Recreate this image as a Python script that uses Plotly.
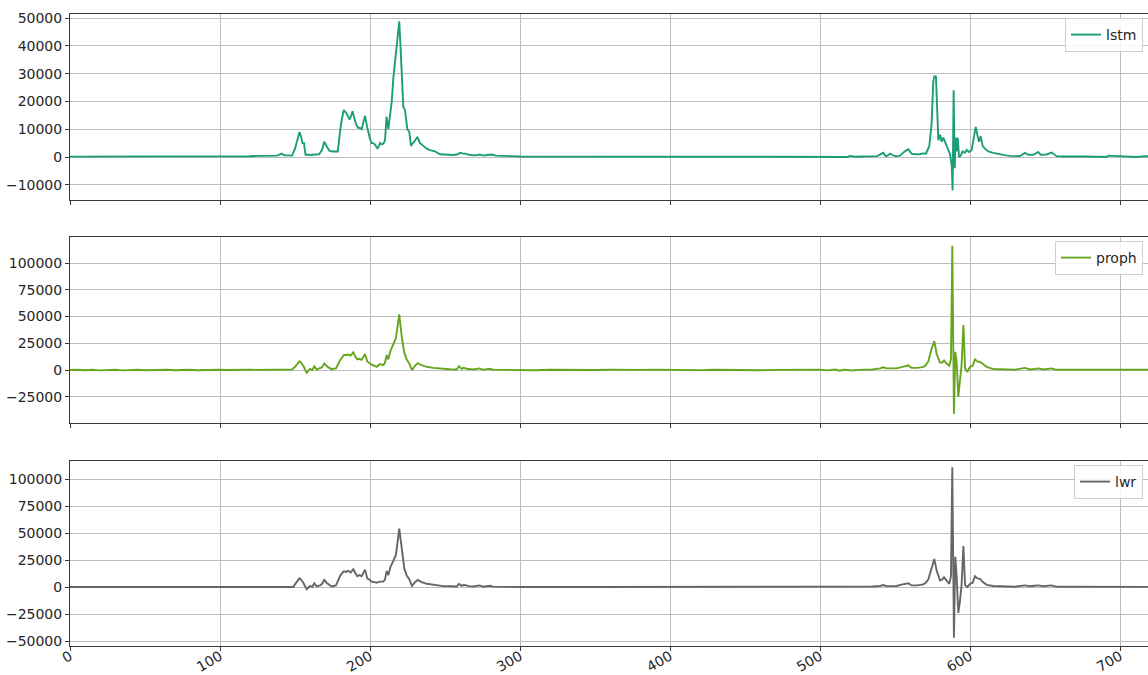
import plotly.graph_objects as go

# ---------------- data ----------------
lstm_x = [0, 10, 20, 30, 40, 50, 60, 65, 70, 75,
          80, 90, 100, 110, 120, 125, 130, 135, 138, 141,
          143, 146, 148, 150, 152, 153, 154, 155, 156, 157,
          159, 161, 163, 165, 166, 168, 169.5, 171, 173, 175,
          177, 178.5, 180, 181, 182.5, 184, 185.5, 186.5, 187.5, 188.4,
          189.5, 190.6, 192, 193, 194.4, 195.5, 196.7, 198, 199, 200,
          201, 202, 203.3, 204, 205, 206, 206.7, 208, 209, 210,
          211, 212.2, 213.3, 214.5, 215.5, 216.5, 217.3, 218.5, 219.5, 220.5,
          221.3, 222.2, 223.3, 224.2, 224.9, 226.2, 227.3, 228.5, 229.5, 231.5,
          233.3, 235.5, 237.8, 240, 243.3, 246.7, 250, 255.5, 258, 260,
          262, 263.3, 266.7, 270, 273.3, 275.5, 278, 281, 284, 286.7,
          293, 300, 320, 340, 360, 380, 400, 420, 440, 460,
          480, 500, 510, 518, 520, 523, 530, 538, 542.2, 543.5,
          544.4, 546.7, 548, 550, 553, 555.5, 557, 558.9, 561, 563,
          566.7, 568.5, 570.7, 572.9, 574.4, 575.5, 576.2, 577.3, 578.9, 580,
          581.1, 582.2, 583, 584, 585.5, 586.7, 587.8, 588.4, 589.1, 589.8,
          590.4, 591.1, 591.8, 592.7, 593.8, 595.1, 596.7, 597.8, 599.3, 601.1,
          602.2, 603.8, 604.9, 606, 607.1, 608.4, 610, 612.2, 615.5, 618,
          621, 624, 626.7, 630, 633.3, 636.7, 638.9, 642.2, 645.5, 647.1,
          649, 651.1, 654.4, 657.8, 662, 666.7, 672, 677.8, 684, 691.1,
          692.2, 700, 705, 711, 716.7, 725]
lstm_y = [150, 150, 150, 120, 150, 150, 200, 350, 250, 350,
          300, 250, 200, 200, 250, 400, 350, 300, 500, 1200,
          600, 600, 500, 3000, 7000, 9000, 7500, 5000, 5000, 800,
          800, 700, 900, 900, 1000, 2500, 5500, 4000, 2200, 2000,
          1900, 2000, 9000, 13000, 16900, 16000, 14500, 13500, 15000, 16500,
          14000, 12000, 10500, 10500, 10000, 12000, 14800, 11000, 8000, 6500,
          5000, 5000, 4500, 4000, 3000, 4000, 5000, 4500, 4800, 6000,
          14500, 10000, 14000, 20000, 28000, 33000, 36000, 42000, 48800, 38000,
          27000, 18000, 17000, 12000, 10000, 9000, 4000, 5000, 5500, 7200,
          5000, 4000, 3000, 2500, 2000, 1000, 800, 700, 900, 1500,
          1200, 1200, 700, 600, 900, 500, 700, 900, 500, 400,
          300, 200, 150, 100, 100, 100, 100, 100, 100, 100,
          100, 0, -100, 0, 400, 100, 200, 300, 1500, 500,
          300, 1200, 800, 300, 400, 1700, 2200, 2800, 1200, 1000,
          1000, 1300, 1200, 4000, 12000, 27000, 29000, 29000, 6000, 8000,
          5500, 7000, 6000, 5000, 3000, 1000, -3000, -12000, 24000, -4000,
          7000, 2000, 7000, 0, 500, 2000, 1500, 2500, 1800, 2500,
          6000, 10800, 8000, 5500, 7500, 4000, 3000, 2000, 1500, 1200,
          800, 600, 400, 400, 300, 1500, 800, 800, 1800, 800,
          900, 900, 1600, 300, 200, 100, 200, 200, 100, 0,
          500, 300, 200, 0, 300, 200]

proph_x = [0, 5, 10, 15, 20, 25, 30, 35, 40, 45,
           50, 55, 60, 65, 70, 75, 80, 85, 90, 95,
           100, 105, 110, 115, 120, 125, 130, 135, 138, 141,
           145, 148, 150, 152.9, 154, 155.5, 157.8, 159, 160, 161.5,
           162.9, 164.4, 166.7, 168, 169.5, 171, 172.2, 174.4, 177.3, 180,
           181.5, 182.6, 184, 185.5, 187.1, 188.9, 190, 191.5, 193, 194.4,
           196.7, 198.2, 200, 201, 203, 204.4, 206.7, 208.9, 210, 211.1,
           212.2, 213.7, 215.5, 217.3, 219.5, 221.1, 222.9, 224.4, 226.2, 228,
           230, 231.8, 234.4, 237.8, 242.2, 245, 248.9, 253, 257.8, 259.3,
           261.1, 262.5, 264.4, 266, 268.9, 272.9, 275.5, 278, 280, 282,
           284.4, 288, 293.3, 300, 310, 320, 330, 340, 350, 360,
           370, 380, 390, 400, 410, 420, 430, 440, 450, 460,
           470, 480, 490, 500, 505, 510, 513, 516, 520, 522,
           525, 529, 535, 540, 542.2, 544.4, 548, 551, 555, 558.9,
           561, 565, 568.9, 570.5, 572.2, 574.4, 576.2, 577.8, 580, 581.5,
           582.7, 584.4, 586.2, 587.3, 588.2, 589.3, 590.2, 591.1, 592.2, 593.3,
           594.4, 595.6, 596.7, 598.2, 600, 601.8, 603.3, 604.9, 606.7, 608.2,
           611.1, 613, 615.5, 620, 624.4, 630, 636.7, 640, 643, 645.5,
           648.9, 651, 654.4, 657.8, 665, 677.8, 685, 692, 700, 710,
           717.8, 725]
proph_y = [0, 300, -200, 200, -300, 100, 200, -300, 0, 300,
           -200, 200, -100, 300, -200, 100, 300, -200, 200, -100,
           300, 0, 200, -100, 300, 100, 200, 500, 800, 300,
           500, 500, 3000, 8100, 7000, 4000, -2500, -500, 1000, 0,
           3500, 500, 1500, 2500, 6000, 4000, 2500, 800, 1500, 9000,
           12000, 14000, 14000, 14500, 13500, 16500, 13000, 10000, 10500, 9500,
           15000, 8000, 6000, 5000, 4000, 3000, 5500, 4500, 7000, 14000,
           10000, 18000, 24000, 30000, 52000, 32000, 16000, 10000, 6000, 0,
           4000, 6500, 4500, 3000, 2000, 1500, 800, 700, 500, 3500,
           1000, 2000, 1200, 800, 500, 1500, 300, 800, 1200, 400,
           300, 600, 200, 300, -200, 200, -100, 300, 0, 200,
           -200, 100, 300, 0, 200, -100, 300, 0, 200, -200,
           100, 300, 0, 200, -300, 500, -600, 300, -200, -400,
           100, 200, 500, 1500, 2500, 1500, 1200, 1500, 3000, 4500,
           2000, 2000, 3000, 4500, 8000, 20000, 27000, 15000, 7000, 7000,
           9000, 6000, 4000, 10000, 116000, -41000, 17000, 8000, -25000, -10000,
           5000, 42000, 2000, -2000, 3000, 4000, 10000, 8000, 7500, 6000,
           3000, 2000, 1000, 700, 500, 300, 2000, 500, 1000, 1500,
           500, 1000, 1500, 200, 300, 0, 200, 500, 300, 200,
           100, 200]

lwr_x = [0, 20, 40, 60, 80, 100, 120, 130, 140, 145,
         148.9, 150, 152.9, 154, 155.5, 157.8, 159, 160, 161.5, 162.9,
         164.4, 166.7, 168, 169.5, 171, 172.2, 174.4, 177.3, 180, 181.5,
         182.6, 184, 185.5, 187.1, 188.9, 190, 191.5, 193, 194.4, 196.7,
         198.2, 200, 201, 203, 204.4, 206.7, 208.9, 210, 211.1, 212.2,
         213.7, 215.5, 217.3, 219.5, 221.1, 222.9, 224.4, 226.2, 228, 230,
         231.8, 234.4, 237.8, 242.2, 245, 248.9, 253, 257.8, 259.3, 261.1,
         262.5, 264.4, 266, 268.9, 272.9, 275.5, 278, 280, 282, 284.4,
         290, 300, 350, 400, 450, 500, 505, 510, 515, 518,
         522, 525, 530, 535, 540, 542.2, 544.4, 548, 551, 555,
         558.9, 561, 565, 568.9, 570.5, 572.2, 574.4, 576.2, 577.8, 580,
         581.5, 582.7, 584.4, 586.2, 587.3, 588.2, 589.3, 590.2, 591.1, 592.2,
         593.3, 594.4, 595.6, 596.7, 598.2, 600, 601.8, 603.3, 604.9, 606.7,
         608.2, 611.1, 615.5, 620, 624.4, 630, 636.7, 640, 643, 645.5,
         648.9, 651, 654.4, 657.8, 665, 677.8, 692, 700, 725]
lwr_y = [0, 0, 50, 0, 50, 0, 100, 300, 500, 300,
         0, 2500, 8000, 7000, 4000, -2000, -500, 1000, 0, 3500,
         500, 1500, 3000, 6500, 4000, 2500, 500, 1500, 10000, 13000,
         14500, 14000, 15000, 13500, 16500, 13500, 10000, 11000, 10000, 16000,
         8000, 6500, 5000, 4500, 4000, 5000, 5000, 7000, 15000, 11000,
         19000, 24000, 30000, 54000, 34000, 17000, 11000, 7000, 1000, 4500,
         6500, 4500, 3000, 2000, 1500, 800, 700, 500, 3000, 1000,
         2000, 1000, 800, 500, 1500, 300, 800, 1200, 400, 300,
         200, 0, 0, 0, 0, 0, 300, 0, 600, 100,
         700, 200, 300, 500, 1000, 1800, 800, 800, 1000, 2500,
         3500, 1500, 1500, 2500, 4000, 7000, 18000, 26000, 15000, 6000,
         7000, 9000, 6000, 3000, 10000, 111000, -47000, 28000, 10000, -24000,
         -13000, 2000, 38000, 2000, 0, 3000, 4000, 10000, 8000, 7500,
         5000, 2000, 1000, 700, 500, 300, 1500, 800, 1200, 1500,
         800, 1000, 1500, 200, 200, 0, 300, 200, 100]

series_names = ["lstm", "proph", "lwr"]
series_colors = ["#1b9e77", "#66a61e", "#666666"]
x_ticks = [0, 100, 200, 300, 400, 500, 600, 700]
y_ticks_top = [-10000, 0, 10000, 20000, 30000, 40000, 50000]
y_ticks_mid = [-25000, 0, 25000, 50000, 75000, 100000]
y_ticks_bot = [-50000, -25000, 0, 25000, 50000, 75000, 100000]

assert len(lstm_x) == len(lstm_y)
assert len(proph_x) == len(proph_y)
assert len(lwr_x) == len(lwr_y)

# ---------------- figure ----------------
W, H = 1148, 675
FONT = "DejaVu Sans"
FS = 14
SPINE = "#3a3a3a"
GRID = "#bdbdbd"
TXT = "#262626"


def lab(v):
    s = str(abs(v))
    return ("\u2212" + s) if v < 0 else s


fig = go.Figure()
data = [(lstm_x, lstm_y), (proph_x, proph_y), (lwr_x, lwr_y)]
for i, ((xs, ys), nm, col) in enumerate(zip(data, series_names, series_colors)):
    sfx = "" if i == 0 else str(i + 1)
    fig.add_trace(go.Scatter(
        x=xs, y=ys, mode="lines", name=nm,
        line=dict(color=col, width=1.9),
        xaxis="x" + sfx, yaxis="y" + sfx,
        legend="legend" + sfx,
    ))

# panel pixel extents (top, bottom) in the 675px tall page
panels = [(14, 200), (237, 423), (461, 646)]
yranges = [[-15470, 51440], [-49500, 124300], [-54600, 116700]]
yticks = [y_ticks_top, y_ticks_mid, y_ticks_bot]
x_left = 70
x_max = (W - x_left) / 1.5

layout = dict(
    width=W, height=H,
    margin=dict(l=0, r=0, t=0, b=0),
    paper_bgcolor="white", plot_bgcolor="white",
    font=dict(family=FONT, size=FS, color=TXT),
    showlegend=True,
)
for i in range(3):
    sfx = "" if i == 0 else str(i + 1)
    top, bot = panels[i]
    layout["xaxis" + sfx] = dict(
        domain=[x_left / W, 1.0], range=[0, x_max],
        anchor="y" + sfx,
        tickvals=x_ticks, ticktext=[str(v) for v in x_ticks],
        showticklabels=(i == 2), tickangle=-30,
        ticklabelstandoff=-8,
        showgrid=True, gridcolor=GRID, gridwidth=1,
        showline=True, linecolor=SPINE, linewidth=1, mirror=True,
        ticks="outside", ticklen=4, tickcolor=SPINE,
        zeroline=False, automargin=False,
        tickfont=dict(family=FONT, size=FS, color=TXT),
    )
    if i > 0:
        layout["xaxis" + sfx]["matches"] = "x"
    layout["yaxis" + sfx] = dict(
        domain=[1 - bot / H, 1 - top / H], range=yranges[i],
        anchor="x" + sfx,
        tickvals=yticks[i], ticktext=[lab(v) for v in yticks[i]],
        showgrid=True, gridcolor=GRID, gridwidth=1,
        showline=True, linecolor=SPINE, linewidth=1, mirror=True,
        ticks="outside", ticklen=4, tickcolor=SPINE,
        zeroline=False, automargin=False,
        tickfont=dict(family=FONT, size=FS, color=TXT),
    )
    layout["legend" + sfx] = dict(
        x=1143 / W, xanchor="right",
        y=1 - (top + 4) / H, yanchor="top",
        bgcolor="rgba(255,255,255,0.85)",
        bordercolor="#d0d0d0", borderwidth=1,
        font=dict(family=FONT, size=FS, color=TXT),
    )

fig.update_layout(**layout)
fig.write_html(
    "out.html",
    config={"displayModeBar": False},
    post_script="document.body.style.margin='0';document.body.style.overflow='hidden';",
)
